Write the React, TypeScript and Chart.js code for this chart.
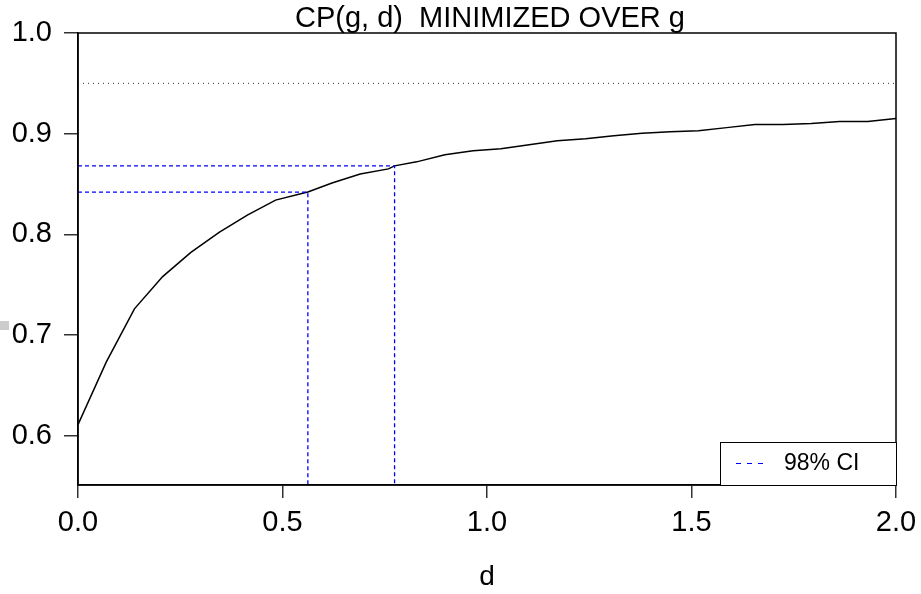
import React, { useEffect, useRef } from "react";
import { Chart, registerables } from "chart.js";

Chart.register(...registerables);

// ---- data ----
const dValues = [
  0, 0.069, 0.138, 0.207, 0.276, 0.345, 0.414, 0.483, 0.552, 0.562, 0.621, 0.69,
  0.759, 0.774, 0.828, 0.897, 0.966, 1.034, 1.103, 1.172, 1.241, 1.31, 1.379,
  1.448, 1.517, 1.586, 1.655, 1.724, 1.793, 1.862, 1.931, 2.0,
];
const cpValues = [
  0.611, 0.673, 0.726, 0.758, 0.782, 0.802, 0.819, 0.834, 0.841, 0.842, 0.851,
  0.86, 0.865, 0.868, 0.872, 0.879, 0.883, 0.885, 0.889, 0.893, 0.895, 0.898,
  0.9005, 0.902, 0.903, 0.906, 0.909, 0.909, 0.91, 0.912, 0.912, 0.915,
];
const xTicks = [0, 0.5, 1.0, 1.5, 2.0];
const yTicks = [0.6, 0.7, 0.8, 0.9, 1.0];
const ciLower = { d: 0.562, cp: 0.842 };
const ciUpper = { d: 0.774, cp: 0.868 };
const refLevel = 0.95;
const xRange = [0, 2];
const yRange = [0.551, 1.0];
const titleText = "CP(g, d)  MINIMIZED OVER g";
const xLabel = "d";
const legendLabel = "98% CI";

const FONT = "'Liberation Sans', Arial, Helvetica, sans-serif";
const CI_COLOR = "#0000ff";

const overlayPlugin = {
  id: "overlay",
  afterDraw(chart: any) {
    const { ctx, chartArea } = chart;
    const { left, right, top, bottom } = chartArea;
    ctx.save();
    // frame
    ctx.strokeStyle = "#000";
    ctx.lineWidth = 1.5;
    ctx.strokeRect(left, top, right - left, bottom - top);
    // title
    ctx.fillStyle = "#000";
    ctx.font = `29px ${FONT}`;
    ctx.textAlign = "center";
    ctx.textBaseline = "alphabetic";
    ctx.fillText(titleText, (left + right) / 2 + 3, top - 6);
    // legend box
    const bw = 176;
    const bh = 43;
    const bx = right - bw;
    const by = bottom - bh;
    ctx.fillStyle = "#fff";
    ctx.fillRect(bx, by, bw, bh);
    ctx.strokeStyle = "#000";
    ctx.lineWidth = 1;
    ctx.strokeRect(bx + 0.5, by + 0.5, bw, bh);
    ctx.strokeStyle = CI_COLOR;
    ctx.lineWidth = 1.2;
    ctx.setLineDash([5, 6]);
    ctx.beginPath();
    ctx.moveTo(bx + 16, by + 21.5);
    ctx.lineTo(bx + 44, by + 21.5);
    ctx.stroke();
    ctx.setLineDash([]);
    ctx.fillStyle = "#000";
    ctx.font = `23px ${FONT}`;
    ctx.textAlign = "left";
    ctx.textBaseline = "middle";
    ctx.fillText(legendLabel, bx + 64, by + 22);
    // small gray mark at left edge
    ctx.fillStyle = "#cccccc";
    ctx.fillRect(0, 321, 9, 9);
    ctx.restore();
  },
};

export default function App() {
  const canvasRef = useRef<HTMLCanvasElement | null>(null);

  useEffect(() => {
    document.body.style.margin = "0";
    const canvas = canvasRef.current;
    if (!canvas) return;

    const curve = dValues.map((d, i) => ({ x: d, y: cpValues[i] }));
    const refLine = [
      { x: xRange[0], y: refLevel },
      { x: xRange[1], y: refLevel },
    ];
    const lowerLine = [
      { x: xRange[0], y: ciLower.cp },
      { x: ciLower.d, y: ciLower.cp },
      { x: ciLower.d, y: yRange[0] },
    ];
    const upperLine = [
      { x: xRange[0], y: ciUpper.cp },
      { x: ciUpper.d, y: ciUpper.cp },
      { x: ciUpper.d, y: yRange[0] },
    ];

    const chart = new Chart(canvas, {
      type: "scatter",
      data: {
        datasets: [
          {
            data: refLine,
            showLine: true,
            borderColor: "#333",
            borderWidth: 1,
            borderDash: [1, 4],
            pointRadius: 0,
          },
          {
            data: lowerLine,
            showLine: true,
            borderColor: CI_COLOR,
            borderWidth: 1.3,
            borderDash: [4, 3],
            pointRadius: 0,
          },
          {
            data: upperLine,
            showLine: true,
            borderColor: CI_COLOR,
            borderWidth: 1.3,
            borderDash: [4, 3],
            pointRadius: 0,
          },
          {
            data: curve,
            showLine: true,
            borderColor: "#000",
            borderWidth: 1.5,
            pointRadius: 0,
            tension: 0,
          },
        ],
      },
      options: {
        animation: false,
        responsive: true,
        maintainAspectRatio: false,
        layout: { padding: { top: 33, right: 25, left: 0, bottom: 0 } },
        plugins: {
          legend: { display: false },
          tooltip: { enabled: false },
          title: { display: false },
        },
        scales: {
          x: {
            type: "linear",
            min: xRange[0],
            max: xRange[1],
            afterBuildTicks: (scale: any) => {
              scale.ticks = xTicks.map((v) => ({ value: v }));
            },
            afterFit: (scale: any) => {
              scale.height = 109;
              scale.paddingLeft = 0;
              scale.paddingRight = 0;
            },
            ticks: {
              callback: (v: any) => Number(v).toFixed(1),
              color: "#000",
              font: { family: FONT, size: 29 },
              padding: 8,
              maxRotation: 0,
            },
            grid: {
              drawOnChartArea: false,
              drawTicks: true,
              tickLength: 13,
              color: "#333",
              lineWidth: 1.5,
            },
            border: { display: true, color: "#000", width: 1.5 },
            title: {
              display: true,
              text: xLabel,
              color: "#000",
              font: { family: FONT, size: 28 },
              padding: { top: 14, bottom: 0 },
            },
          },
          y: {
            type: "linear",
            min: yRange[0],
            max: yRange[1],
            afterBuildTicks: (scale: any) => {
              scale.ticks = yTicks.map((v) => ({ value: v }));
            },
            afterFit: (scale: any) => {
              scale.width = 78;
              scale.paddingTop = 0;
              scale.paddingBottom = 0;
            },
            ticks: {
              callback: (v: any) => Number(v).toFixed(1),
              color: "#000",
              font: { family: FONT, size: 29 },
              padding: 12,
            },
            grid: {
              drawOnChartArea: false,
              drawTicks: true,
              tickLength: 14,
              color: "#333",
              lineWidth: 1.5,
            },
            border: { display: true, color: "#000", width: 1.5 },
          },
        },
      } as any,
      plugins: [overlayPlugin],
    });

    return () => chart.destroy();
  }, []);

  return (
    <div style={{ width: 921, height: 594, position: "relative" }}>
      <canvas ref={canvasRef} />
    </div>
  );
}
